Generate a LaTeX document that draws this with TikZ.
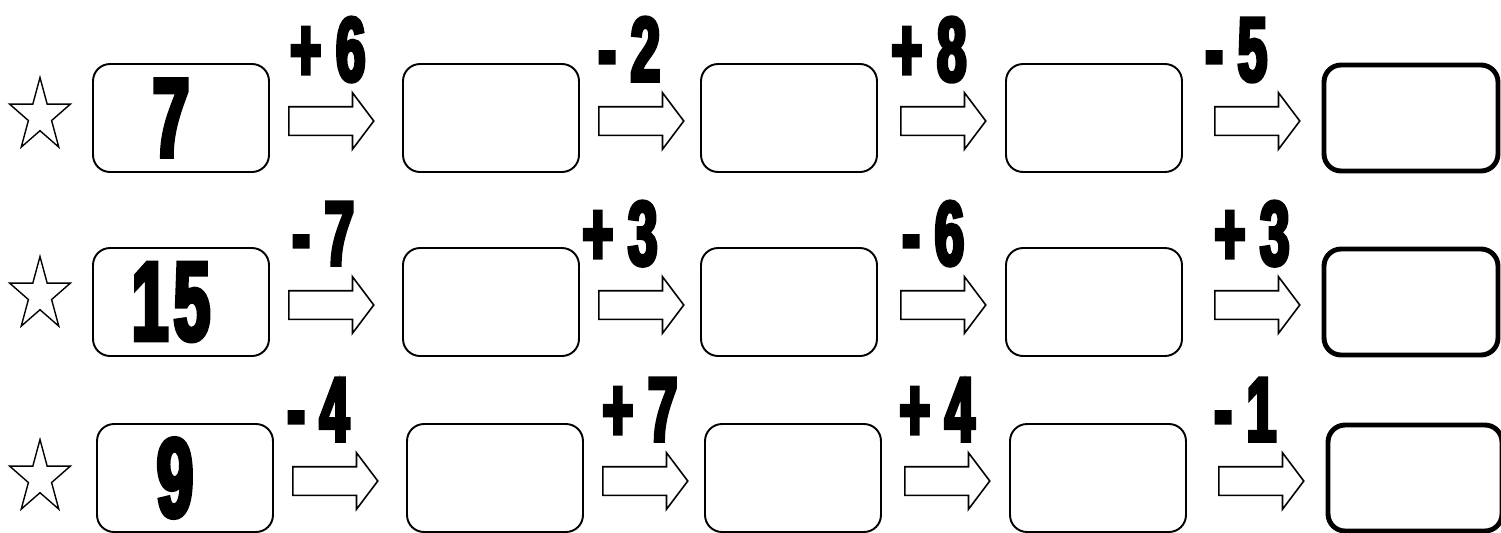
\documentclass[tikz,border=0pt]{standalone}
\usepackage{fontspec}
\usepackage{tikz}
\usetikzlibrary{shapes.geometric,shapes.arrows,calc}
\newfontfamily\opfont[FakeStretch=0.58,FakeBold=4]{Liberation Sans}
\newfontfamily\numfont[FakeStretch=0.58,FakeBold=4,LetterSpace=5]{Liberation Sans}
\tikzset{
  valbox/.style={draw, rounded corners=0.34cm, line width=1.1pt, minimum width=3.52cm, minimum height=2.16cm, inner sep=0pt},
  lastbox/.style={valbox, line width=2.8pt, minimum width=3.48cm, minimum height=2.12cm},
  opArrow/.style={draw, single arrow, single arrow tip angle=106, single arrow head extend=0.28cm, inner xsep=0pt, inner ysep=0.27cm, minimum height=1.7cm, line width=0.9pt, anchor=tail},
  opLabel/.style={anchor=base west, inner sep=0pt, font=\opfont\bfseries\fontsize{52}{52}\selectfont},
  startNum/.style={inner sep=0pt, font=\numfont\bfseries\fontsize{64}{64}\selectfont},
  rowStar/.style={draw, star, star points=5, star point ratio=2.618, minimum size=1.54cm, inner sep=0pt, line width=0.8pt, xscale=0.83, transform shape}
}

\begin{document}
\begin{tikzpicture}[x=0.02cm,y=-0.02cm]
\useasboundingbox (0,0) rectangle (1501,532);
\foreach \r/\by/\sy/\dx/\num/\ops in {
  1/118/116/0/7/{+ 6/290,- 2/598,+ 8/891,- 5/1205},
  2/302/295/0/15/{- 7/292,+ 3/582,- 6/902,+ 3/1214},
  3/478/478/4/9/{- 4/287,+ 7/602,+ 4/899,- 1/1214}}{
  \node[rowStar] (s\r) at (40,\sy) {};
  \foreach \i/\bx in {1/181,2/491,3/789,4/1094}{
    \node[valbox] (b\r\i) at (\bx+\dx,\by) {};
  }
  \node[lastbox] (b\r5) at (1411+\dx,\by) {};
  \node[startNum] (n\r) at ([xshift=-0.2cm]b\r1.center) {\num};
  \foreach \i/\ax in {1/288,2/598,3/900,4/1214}{
    \node[opArrow] (a\r\i) at (\ax+\dx,\by+3) {};
  }
  \foreach \t/\lx [count=\i] in \ops{
    \node[opLabel] (l\r\i) at (\lx,\by-37) {\t};
  }
}
\end{tikzpicture}
\end{document}
